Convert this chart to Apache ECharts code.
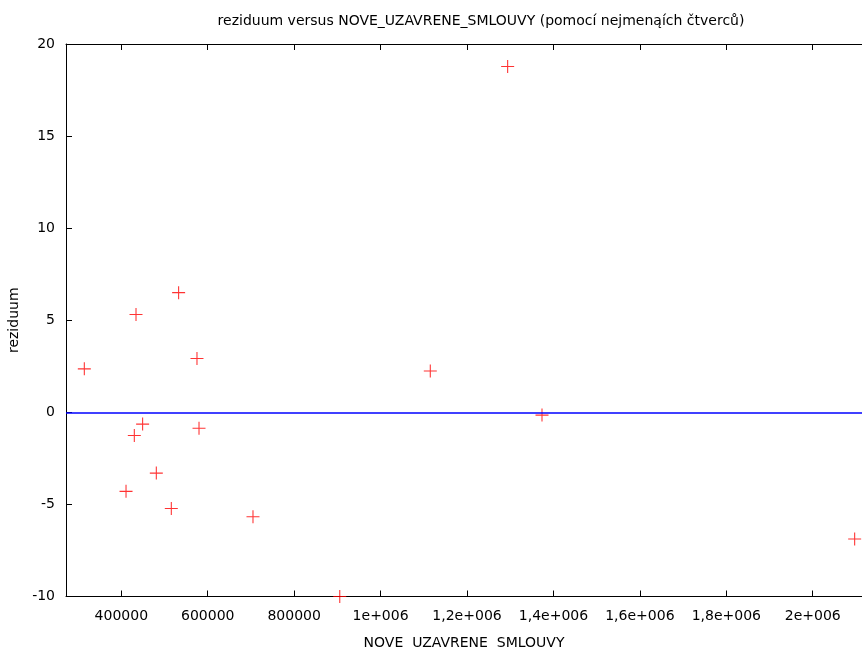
<!DOCTYPE html>
<html>
<head>
<meta charset="utf-8">
<script src="https://cdn.jsdelivr.net/npm/echarts@6/dist/echarts.min.js"></script>
<style>
  html, body { margin: 0; padding: 0; background: #fff; }
  #chart { width: 862px; height: 650px; }
</style>
</head>
<body>
<div id="chart"></div>
<script>
// Residuals plotted against the number of newly concluded contracts
const contracts = [314400, 434000, 532600, 575100, 449300, 430100, 579800, 481000,
                   410900, 515700, 704700, 905500, 1115000, 1294000, 1373500, 2097000];
const residuals = [2.36, 5.31, 6.50, 2.92, -0.64, -1.26, -0.86, -3.30,
                   -4.29, -5.22, -5.67, -10.0, 2.24, 18.78, -0.15, -6.88];

const xTickValues = [400000, 600000, 800000, 1000000, 1200000, 1400000, 1600000, 1800000, 2000000];
const xTickLabels = ['400000', '600000', '800000', '1e+006', '1,2e+006', '1,4e+006', '1,6e+006', '1,8e+006', '2e+006'];
const yTickValues = [-10, -5, 0, 5, 10, 15, 20];
const zeroLine = 0;

const FONT = 'DejaVu Sans';
const chart = echarts.init(document.getElementById('chart'), null, { renderer: 'canvas' });

const xTickStyle = {
  show: true, inside: true, length: 6,
  customValues: xTickValues,
  lineStyle: { color: '#000', width: 1 }
};

chart.setOption({
  animation: false,
  backgroundColor: '#fff',
  title: {
    text: 'reziduum versus NOVE_UZAVRENE_SMLOUVY (pomocí nejmenąích čtverců)',
    left: 476, top: 9, textAlign: 'center',
    textStyle: { fontFamily: FONT, fontSize: 14, fontWeight: 'normal', color: '#000' }
  },
  grid: { left: 66, top: 44, width: 796, height: 552.5, outerBoundsMode: 'none' },
  xAxis: [{
    type: 'value',
    min: 272000, max: 2114000,
    position: 'bottom',
    name: 'NOVE  UZAVRENE  SMLOUVY',
    nameLocation: 'middle', nameGap: 40,
    nameTextStyle: { fontFamily: FONT, fontSize: 14, color: '#000' },
    axisLine: { show: true, onZero: false, lineStyle: { color: '#000', width: 1 } },
    axisTick: xTickStyle,
    axisLabel: {
      customValues: xTickValues,
      margin: 13,
      fontFamily: FONT, fontSize: 14, color: '#000',
      formatter: v => { const i = xTickValues.indexOf(v); return i >= 0 ? xTickLabels[i] : ''; }
    },
    splitLine: { show: false }
  }, {
    type: 'value',
    min: 272000, max: 2114000,
    position: 'top',
    axisLine: { show: true, onZero: false, lineStyle: { color: '#000', width: 1 } },
    axisTick: xTickStyle,
    axisLabel: { show: false },
    splitLine: { show: false }
  }],
  yAxis: {
    type: 'value',
    min: -10, max: 20, interval: 5,
    name: 'reziduum',
    nameLocation: 'middle', nameGap: 42, nameRotate: 90,
    nameTextStyle: { fontFamily: FONT, fontSize: 14, color: '#000' },
    axisLine: { show: true, onZero: false, lineStyle: { color: '#000', width: 1 } },
    axisTick: { show: true, inside: true, length: 6, lineStyle: { color: '#000', width: 1 } },
    axisLabel: {
      margin: 11, fontFamily: FONT, fontSize: 14, color: '#000',
      formatter: v => yTickValues.includes(v) ? String(v) : ''
    },
    splitLine: { show: false }
  },
  series: [{
    type: 'scatter',
    clip: false,
    data: contracts.map((x, i) => [x, residuals[i]]),
    symbol: 'path://M0,5.5h12v1h-12zM5.5,0h1v12h-1z',
    symbolSize: 13,
    itemStyle: { color: '#ff0000' },
    markLine: {
      silent: true,
      symbol: ['none', 'none'],
      label: { show: false },
      lineStyle: { color: '#0000ff', width: 1.5, type: 'solid' },
      data: [{ yAxis: zeroLine }]
    }
  }]
});
</script>
</body>
</html>
